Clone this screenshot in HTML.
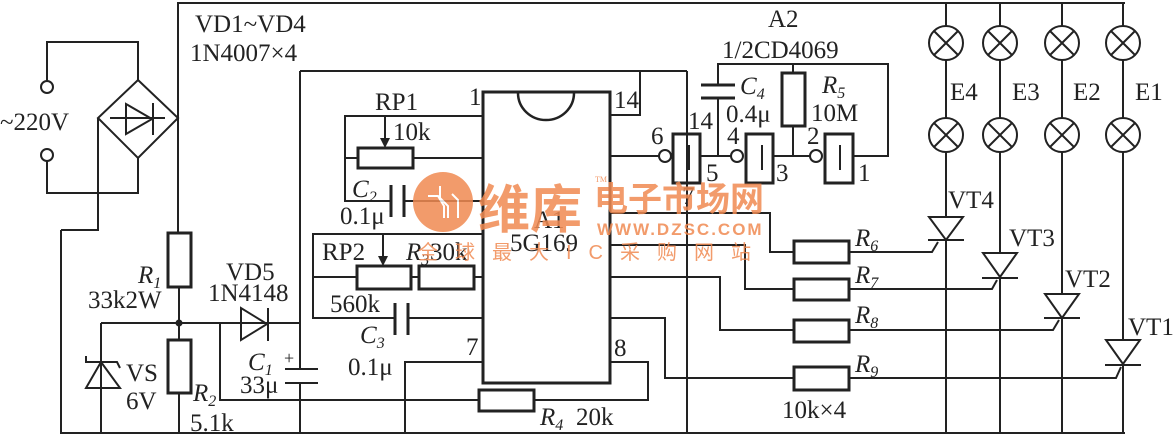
<!DOCTYPE html>
<html><head><meta charset="utf-8"><style>
html,body{margin:0;padding:0;background:#fff;}
svg{display:block;}
text{font-family:"Liberation Serif","Noto Serif CJK SC",serif;fill:#222;font-size:25px;}
.i{font-style:italic;}
tspan{font-size:16px;}
</style></head><body>
<svg width="1176" height="435" viewBox="0 0 1176 435" xmlns="http://www.w3.org/2000/svg">
<g stroke="#222" stroke-width="2" fill="none">
<polyline points="178,233 178,3 1125,3"/>
<polyline points="61,230 61,433 1125,433"/>
<circle cx="47" cy="87" r="6"/><circle cx="47" cy="155" r="6"/>
<polyline points="47,81 47,42 138,42 138,80"/>
<polyline points="47,161 47,193 138,193 138,158"/>
<polygon points="138,80 178,118 138,158 98,118"/>
<polygon points="126,104 126,134 152,119" /><line x1="153" y1="103" x2="153" y2="135"/><line x1="110" y1="118" x2="165" y2="118"/>
<polyline points="98,118 98,230 61,230"/>
<rect x="168" y="233" width="23" height="54" stroke-width="3"/>
<line x1="179" y1="287" x2="179" y2="340"/>
<rect x="168" y="340" width="23" height="53" stroke-width="3"/>
<line x1="179" y1="393" x2="179" y2="433"/>
<line x1="101" y1="323" x2="300" y2="323"/>
<line x1="101" y1="323" x2="101" y2="433"/>
<polygon points="101,362 86,388 120,388"/>
<polyline points="86,356 86,362 117,362 120,368"/>
<polygon points="241,308 241,340 267,324"/><line x1="268" y1="308" x2="268" y2="341"/>
<polyline points="220,323 220,400 479,400"/>
<line x1="300" y1="71" x2="300" y2="369"/><line x1="285" y1="369" x2="318" y2="369"/><line x1="285" y1="383" x2="318" y2="383"/><line x1="300" y1="383" x2="300" y2="433"/>
<line x1="300" y1="71" x2="687" y2="71"/>
<polyline points="640,71 640,115 610,115"/>
<line x1="687" y1="71" x2="687" y2="433"/>
<polyline points="483,116 345,116 345,201 391,201"/>
<line x1="345" y1="158" x2="358" y2="158"/>
<rect x="358" y="148" width="55" height="20" stroke-width="3"/>
<line x1="413" y1="158" x2="483" y2="158"/>
<line x1="385" y1="116" x2="385" y2="140"/>
<line x1="391" y1="185" x2="391" y2="217" stroke-width="3"/><line x1="404" y1="185" x2="404" y2="217" stroke-width="3"/>
<line x1="404" y1="201" x2="483" y2="201"/>
<polyline points="483,234 313,234 313,318 395,318"/>
<line x1="313" y1="277" x2="357" y2="277"/>
<rect x="357" y="266" width="54" height="23" stroke-width="3"/>
<line x1="411" y1="277" x2="419" y2="277"/>
<rect x="419" y="266" width="55" height="23" stroke-width="3"/>
<line x1="474" y1="277" x2="483" y2="277"/>
<line x1="383" y1="234" x2="383" y2="258"/>
<line x1="395" y1="303" x2="395" y2="335" stroke-width="3"/><line x1="408" y1="303" x2="408" y2="335" stroke-width="3"/>
<line x1="408" y1="318" x2="483" y2="318"/>
<polyline points="405,433 405,362 483,362"/>
<rect x="483" y="92" width="127" height="291" stroke-width="3"/>
<path d="M518,93 A28,27 0 0 0 574,93" stroke-width="2.5"/>
<polyline points="610,362 648,362 648,400 534,400"/>
<rect x="479" y="390" width="55" height="21" stroke-width="3"/>
<line x1="610" y1="156" x2="659" y2="156"/>
<circle cx="665" cy="156" r="6"/>
<rect x="673" y="134" width="27" height="49" stroke-width="3"/>
<line x1="700" y1="156" x2="731" y2="156"/>
<circle cx="737" cy="156" r="6"/>
<rect x="746" y="134" width="27" height="49" stroke-width="3"/>
<line x1="773" y1="156" x2="810" y2="156"/>
<circle cx="816" cy="156" r="6"/>
<rect x="825" y="134" width="28" height="49" stroke-width="3"/>
<polyline points="853,156 888,156 888,64 718,64 718,85"/>
<line x1="701" y1="85" x2="735" y2="85" stroke-width="3"/><line x1="701" y1="98" x2="735" y2="98" stroke-width="3"/>
<line x1="718" y1="98" x2="718" y2="156"/>
<line x1="793" y1="64" x2="793" y2="73"/>
<rect x="782" y="73" width="23" height="53" stroke-width="3"/>
<line x1="793" y1="126" x2="793" y2="156"/>
<line x1="689" y1="145" x2="689" y2="170"/><line x1="762" y1="145" x2="762" y2="170"/><line x1="840" y1="145" x2="840" y2="170"/>
<polyline points="610,213 770,213 770,252 794,252"/>
<rect x="794" y="241" width="55" height="22" stroke-width="3"/>
<polyline points="849,252 932,252 938,242"/>
<polyline points="610,245 745,245 745,289 794,289"/>
<rect x="794" y="279" width="55" height="21" stroke-width="3"/>
<polyline points="849,289 992,289 997,280"/>
<polyline points="610,277 720,277 720,330 794,330"/>
<rect x="794" y="320" width="55" height="22" stroke-width="3"/>
<polyline points="849,330 1053,330 1059,320"/>
<polyline points="610,318 665,318 665,378 794,378"/>
<rect x="794" y="367" width="55" height="23" stroke-width="3"/>
<polyline points="849,378 1116,378 1121,367"/>
<line x1="946" y1="3" x2="946" y2="433"/><line x1="1000" y1="3" x2="1000" y2="433"/>
<line x1="1062" y1="3" x2="1062" y2="433"/><line x1="1123" y1="3" x2="1123" y2="433"/>
</g>
<g stroke="#222" stroke-width="2" fill="#fff">
<circle cx="946" cy="43" r="17"/><circle cx="1000" cy="43" r="17"/><circle cx="1062" cy="43" r="17"/><circle cx="1123" cy="43" r="17"/>
<circle cx="946" cy="135" r="17"/><circle cx="1000" cy="135" r="17"/><circle cx="1062" cy="135" r="17"/><circle cx="1123" cy="135" r="17"/>
<polygon points="929,217 963,217 946,240"/>
<polygon points="983,253 1017,253 1000,277"/>
<polygon points="1045,294 1079,294 1062,318"/>
<polygon points="1106,340 1140,340 1123,364"/>
</g>
<g stroke="#222" stroke-width="2">
<path d="M934,31 l24,24 M958,31 l-24,24 M988,31 l24,24 M1012,31 l-24,24 M1050,31 l24,24 M1074,31 l-24,24 M1111,31 l24,24 M1135,31 l-24,24"/>
<path d="M934,123 l24,24 M958,123 l-24,24 M988,123 l24,24 M1012,123 l-24,24 M1050,123 l24,24 M1074,123 l-24,24 M1111,123 l24,24 M1135,123 l-24,24"/>
<line x1="928" y1="240" x2="964" y2="240"/><line x1="982" y1="278" x2="1018" y2="278"/>
<line x1="1044" y1="318" x2="1080" y2="318"/><line x1="1105" y1="365" x2="1141" y2="365"/>
</g>
<g fill="#222">
<circle cx="179" cy="323" r="3.5"/>
<polygon points="380,138 390,138 385,148"/>
<polygon points="378,256 388,256 383,266"/>
</g>
<text x="0" y="130">~220V</text>
<text x="195" y="32">VD1~VD4</text>
<text x="190" y="61">1N4007×4</text>
<text x="138" y="283" class="i">R<tspan dy="5">1</tspan></text>
<text x="88" y="308">33k2W</text>
<text x="126" y="381">VS</text><text x="126" y="409">6V</text>
<text x="193" y="401" class="i">R<tspan dy="5">2</tspan></text>
<text x="190" y="431">5.1k</text>
<text x="226" y="280">VD5</text><text x="208" y="301">1N4148</text>
<text x="248" y="370" class="i">C<tspan dy="5">1</tspan></text><text x="284" y="364" style="font-size:18px">+</text>
<text x="240" y="393">33μ</text>
<text x="375" y="110">RP1</text><text x="393" y="140">10k</text>
<text x="352" y="197" class="i">C<tspan dy="5">2</tspan></text>
<text x="340" y="224">0.1μ</text>
<text x="322" y="260">RP2</text><text x="406" y="260" class="i">R<tspan dy="5">3</tspan></text><text x="430" y="260">30k</text>
<text x="330" y="312">560k</text>
<text x="360" y="343" class="i">C<tspan dy="5">3</tspan></text>
<text x="348" y="375">0.1μ</text>
<text x="466" y="355">7</text><text x="469" y="105">1</text>
<text x="614" y="108">14</text><text x="614" y="356">8</text>
<text x="534" y="228">A1</text><text x="510" y="251">5G169</text>
<text x="540" y="425" class="i">R<tspan dy="5">4</tspan></text><text x="576" y="425">20k</text>
<text x="768" y="27">A2</text><text x="722" y="58">1/2CD4069</text>
<text x="740" y="94" class="i">C<tspan dy="5">4</tspan></text><text x="726" y="122">0.4μ</text>
<text x="822" y="93" class="i">R<tspan dy="5">5</tspan></text><text x="811" y="121">10M</text>
<text x="688" y="129">14</text><text x="651" y="144">6</text><text x="706" y="181">5</text>
<text x="727" y="144">4</text><text x="776" y="181">3</text><text x="807" y="144">2</text><text x="858" y="181">1</text>
<text x="682" y="204">7</text>
<text x="855" y="246" class="i">R<tspan dy="5">6</tspan></text>
<text x="855" y="283" class="i">R<tspan dy="5">7</tspan></text>
<text x="855" y="323" class="i">R<tspan dy="5">8</tspan></text>
<text x="855" y="372" class="i">R<tspan dy="5">9</tspan></text>
<text x="782" y="418">10k×4</text>
<text x="950" y="100">E4</text><text x="1012" y="100">E3</text><text x="1073" y="100">E2</text><text x="1135" y="100">E1</text>
<text x="948" y="208">VT4</text><text x="1009" y="246">VT3</text><text x="1065" y="287">VT2</text><text x="1128" y="335">VT1</text>
<g opacity="0.85">
<circle cx="443" cy="202" r="30" fill="#f08a52"/>
<g stroke="#fff" stroke-width="2" fill="none"><path d="M428,196 h10 l6,10 v12 M440,186 v12 l8,8 v12 M452,194 l6,6 v18"/></g>
<text x="478" y="228" style="font-size:52px;font-weight:bold;fill:#f08a52;font-family:'Noto Sans CJK SC',sans-serif">维库</text>
<text x="594" y="211" style="font-size:34px;font-weight:bold;fill:#f08a52;font-family:'Noto Sans CJK SC',sans-serif">电子市场网</text>
<text x="597" y="235" style="font-size:17px;font-weight:bold;letter-spacing:2px;fill:#f08a52;font-family:'Liberation Sans',sans-serif">WWW.DZSC.COM</text>
<text x="418" y="259" style="font-size:20px;letter-spacing:17px;fill:#f08a52;font-family:'Liberation Sans','Noto Sans CJK SC',sans-serif">全球最大IC采购网站</text>
<text x="595" y="182" style="font-size:8px;fill:#f08a52">TM</text>
</g>
</svg>
</body></html>
